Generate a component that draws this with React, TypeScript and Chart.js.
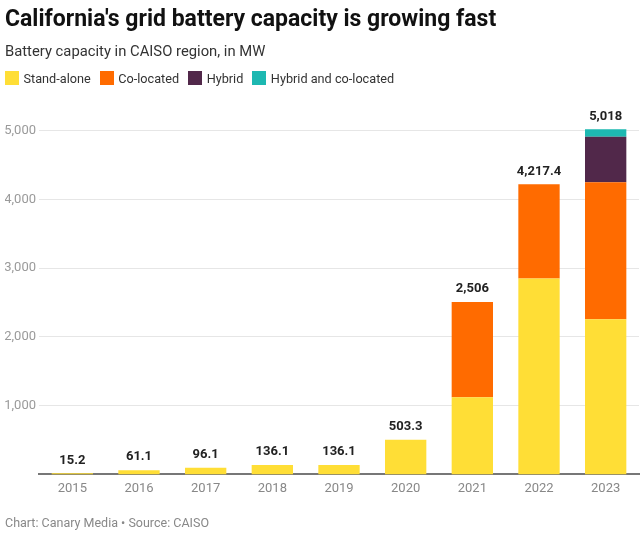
import React, { useEffect, useRef } from "react";
import { Chart, registerables } from "chart.js";

Chart.register(...registerables);

const TITLE = "California's grid battery capacity is growing fast";
const SUBTITLE = "Battery capacity in CAISO region, in MW";
const FOOTER = "Chart: Canary Media • Source: CAISO";

const years = ["2015", "2016", "2017", "2018", "2019", "2020", "2021", "2022", "2023"];
const standAlone = [15.2, 61.1, 96.1, 136.1, 136.1, 503.3, 1120, 2849, 2256];
const coLocated = [null, null, null, null, null, null, 1386, 1368.4, 1990];
const hybrid = [null, null, null, null, null, null, null, null, 664];
const hybridCoLocated = [null, null, null, null, null, null, null, null, 108];
const totals = [15.2, 61.1, 96.1, 136.1, 136.1, 503.3, 2506, 4217.4, 5018];
const yTicks = [1000, 2000, 3000, 4000, 5000];

const seriesNames = ["Stand-alone", "Co-located", "Hybrid", "Hybrid and co-located"];
const seriesColors = ["#FFDE36", "#FF6B00", "#51284A", "#1DB8B1"];
const seriesData = [standAlone, coLocated, hybrid, hybridCoLocated];

const FONT = "Roboto, 'Noto Sans', sans-serif";

const totalsPlugin = {
  id: "totalsLabels",
  afterDatasetsDraw(chart: any) {
    const ctx = chart.ctx;
    const meta = chart.getDatasetMeta(0);
    const y = chart.scales.y;
    ctx.save();
    ctx.font = `bold 13px ${FONT}`;
    ctx.fillStyle = "#222222";
    ctx.textAlign = "center";
    ctx.textBaseline = "middle";
    totals.forEach((t, i) => {
      const el = meta.data[i];
      if (!el) return;
      const label = t.toLocaleString("en-US", { maximumFractionDigits: 1 });
      ctx.fillText(label, el.x, y.getPixelForValue(t) - 13);
    });
    ctx.restore();
  },
};

export default function App() {
  const ref = useRef<HTMLCanvasElement | null>(null);

  useEffect(() => {
    document.body.style.margin = "0";
    if (!ref.current) return;
    const chart = new Chart(ref.current, {
      type: "bar",
      data: {
        labels: years,
        datasets: seriesNames.map((name, i) => ({
          label: name,
          data: seriesData[i] as any,
          backgroundColor: seriesColors[i],
          borderWidth: 0,
          barPercentage: 0.62,
          categoryPercentage: 1,
        })),
      },
      options: {
        responsive: false,
        animation: false,
        layout: { padding: { left: 5, right: 1, top: 92, bottom: 31 } },
        plugins: {
          legend: { display: false },
          title: { display: false },
          tooltip: { enabled: false },
        },
        scales: {
          x: {
            stacked: true,
            grid: { display: false, drawTicks: false },
            border: { display: true, color: "#777777", width: 2 },
            ticks: {
              color: "#888888",
              padding: 7,
              font: { family: FONT, size: 13 },
            },
          },
          y: {
            stacked: true,
            min: 0,
            max: 5560,
            afterBuildTicks(scale: any) {
              scale.ticks = yTicks.map((v) => ({ value: v }));
            },
            afterFit(scale: any) {
              scale.width = 34;
            },
            grid: { color: "#E6E6E6", lineWidth: 1, drawTicks: false },
            border: { display: false },
            ticks: {
              color: "#9A9A9A",
              padding: 3,
              font: { family: FONT, size: 13 },
              callback: (v: any) => Number(v).toLocaleString("en-US"),
            },
          },
        },
      },
      plugins: [totalsPlugin],
    });
    return () => chart.destroy();
  }, []);

  return (
    <div style={{ position: "relative", width: 640, height: 535, fontFamily: FONT, background: "#fff" }}>
      <canvas ref={ref} width={640} height={535} style={{ display: "block", position: "absolute", left: 0, top: 0 }} />
      <div
        style={{
          position: "absolute",
          left: 5,
          top: 5,
          fontSize: 23,
          lineHeight: "27px",
          fontWeight: 700,
          color: "#111",
          whiteSpace: "nowrap",
        }}
      >
        {TITLE}
      </div>
      <div
        style={{
          position: "absolute",
          left: 5,
          top: 42,
          fontSize: 14.8,
          lineHeight: "18px",
          color: "#333",
          whiteSpace: "nowrap",
        }}
      >
        {SUBTITLE}
      </div>
      <div
        style={{
          position: "absolute",
          left: 5,
          top: 71,
          display: "flex",
          alignItems: "center",
          height: 14,
          fontSize: 12.7,
          color: "#333",
          whiteSpace: "nowrap",
        }}
      >
        {seriesNames.map((name, i) => (
          <div key={name} style={{ display: "flex", alignItems: "center", marginRight: 9 }}>
            <span style={{ display: "inline-block", width: 14, height: 14, background: seriesColors[i], marginRight: 4.5 }} />
            <span>{name}</span>
          </div>
        ))}
      </div>
      <div
        style={{
          position: "absolute",
          left: 5,
          top: 514,
          fontSize: 12.5,
          lineHeight: "17px",
          color: "#888",
          whiteSpace: "nowrap",
        }}
      >
        {FOOTER}
      </div>
    </div>
  );
}
